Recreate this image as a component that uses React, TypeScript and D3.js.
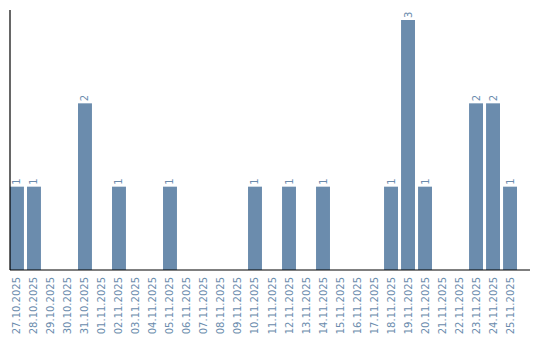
import React from "react";
import * as d3 from "d3";

const dates = [
  "27.10.2025","28.10.2025","29.10.2025","30.10.2025","31.10.2025","01.11.2025",
  "02.11.2025","03.11.2025","04.11.2025","05.11.2025","06.11.2025","07.11.2025",
  "08.11.2025","09.11.2025","10.11.2025","11.11.2025","12.11.2025","13.11.2025",
  "14.11.2025","15.11.2025","16.11.2025","17.11.2025","18.11.2025","19.11.2025",
  "20.11.2025","21.11.2025","22.11.2025","23.11.2025","24.11.2025","25.11.2025",
];
const counts = [1,1,0,0,2,0,1,0,0,1,0,0,0,0,1,0,1,0,1,0,0,0,1,3,1,0,0,2,2,1];

const W = 540, H = 340;
const left = 10, top = 10, baseline = 270, rightAxis = 530;
const color = "#6b8cad";
const font = "'DejaVu Sans', sans-serif";

export default function App() {
  const x = d3.scaleBand<string>().domain(dates).range([left, 517]).paddingInner(0.18).paddingOuter(0);
  const y = d3.scaleLinear().domain([0, 3]).range([baseline, 20]);
  return (
    <svg width={W} height={H} style={{ position: "absolute", left: 0, top: 0 }}>
      {dates.map((d, i) => {
        const v = counts[i];
        const bx = x(d)!;
        const cx = bx + x.bandwidth() / 2;
        return (
          <g key={d}>
            {v > 0 && (
              <>
                <rect x={bx} y={y(v)} width={x.bandwidth()} height={baseline - y(v)} fill={color} />
                <text
                  transform={`translate(${cx + 3.5},${y(v) - 2}) rotate(-90)`}
                  fontFamily={font}
                  fontSize={10}
                  fill={color}
                >
                  {v}
                </text>
              </>
            )}
            <text
              transform={`translate(${cx + 3.5},${baseline + 7}) rotate(-90)`}
              textAnchor="end"
              fontFamily={font}
              fontSize={10}
              fill={color}
            >
              {d}
            </text>
          </g>
        );
      })}
      <line x1={left} x2={left} y1={top} y2={baseline} stroke="#000" strokeWidth={1.2} />
      <line x1={left} x2={rightAxis} y1={baseline} y2={baseline} stroke="#000" strokeWidth={1.2} />
    </svg>
  );
}
